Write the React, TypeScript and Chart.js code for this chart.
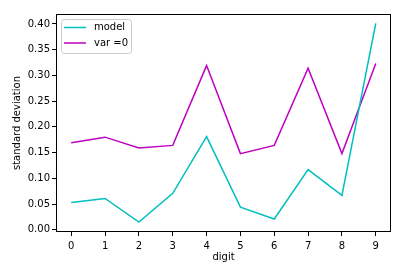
import React, { useEffect, useRef } from "react";
import { Chart, registerables } from "chart.js";

Chart.register(...registerables);

const digits = [0, 1, 2, 3, 4, 5, 6, 7, 8, 9];
const modelValues = [0.053, 0.061, 0.015, 0.071, 0.181, 0.044, 0.021, 0.117, 0.067, 0.401];
const varZeroValues = [0.169, 0.180, 0.159, 0.164, 0.319, 0.148, 0.164, 0.314, 0.148, 0.323];
const seriesLabels = ["model", "var =0"];
const seriesColors = ["#00bfbf", "#bf00bf"];

const FONT = "'DejaVu Sans', sans-serif";

export default function App() {
  const ref = useRef<HTMLCanvasElement | null>(null);
  useEffect(() => {
    if (!ref.current) return;
    const framePlugin = {
      id: "frame",
      afterDraw(chart: any) {
        const { ctx, chartArea: a } = chart;
        ctx.save();
        ctx.strokeStyle = "#000";
        ctx.lineWidth = 1;
        ctx.strokeRect(Math.round(a.left) + 0.5, Math.round(a.top) + 0.5, Math.round(a.right - a.left) - 1, Math.round(a.bottom - a.top) - 1);
        // legend
        const x = Math.round(a.left) + 5, y = Math.round(a.top) + 5, w = 70, h = 34;
        ctx.fillStyle = "rgba(255,255,255,0.8)";
        ctx.strokeStyle = "#cccccc";
        ctx.beginPath();
        (ctx as any).roundRect(x + 0.5, y + 0.5, w, h, 3);
        ctx.fill();
        ctx.stroke();
        ctx.font = "10px " + FONT;
        ctx.textBaseline = "middle";
        ctx.textAlign = "left";
        seriesLabels.forEach((lab, i) => {
          const ly = y + 8.5 + i * 15.5;
          ctx.strokeStyle = seriesColors[i];
          ctx.lineWidth = 1.5;
          ctx.beginPath();
          ctx.moveTo(x + 3, ly);
          ctx.lineTo(x + 25, ly);
          ctx.stroke();
          ctx.fillStyle = "#000";
          ctx.fillText(lab, x + 33, ly);
        });
        ctx.restore();
      },
    };
    const chart = new Chart(ref.current, {
      type: "line",
      data: {
        datasets: [
          {
            label: seriesLabels[0],
            data: digits.map((d, i) => ({ x: d, y: modelValues[i] })),
            borderColor: seriesColors[0],
            borderWidth: 1.5,
            pointRadius: 0,
            tension: 0,
          },
          {
            label: seriesLabels[1],
            data: digits.map((d, i) => ({ x: d, y: varZeroValues[i] })),
            borderColor: seriesColors[1],
            borderWidth: 1.5,
            pointRadius: 0,
            tension: 0,
          },
        ],
      },
      options: {
        animation: false,
        responsive: false,
        layout: { padding: { top: 14, right: 22, left: 0, bottom: 0 } },
        plugins: { legend: { display: false }, tooltip: { enabled: false } },
        scales: {
          x: {
            type: "linear",
            min: -0.45,
            max: 9.45,
            ticks: {
              stepSize: 1,
              includeBounds: false,
              color: "#000",
              font: { family: FONT, size: 10 },
              padding: 4,
              maxRotation: 0,
            },
            grid: { drawOnChartArea: false, drawTicks: true, tickLength: 4, tickColor: "#000" },
            border: { display: false },
            title: { display: true, text: "digit", color: "#000", font: { family: FONT, size: 10 }, padding: { top: 0, bottom: 4 } },
            afterFit(s: any) { s.height = 35; },
          },
          y: {
            type: "linear",
            min: -0.00425,
            max: 0.41925,
            ticks: {
              stepSize: 0.05,
              includeBounds: false,
              color: "#000",
              font: { family: FONT, size: 10 },
              padding: 2,
              callback: (v: any) => Number(v).toFixed(2),
            },
            grid: { drawOnChartArea: false, drawTicks: true, tickLength: 4, tickColor: "#000" },
            border: { display: false },
            title: { display: true, text: "standard deviation", color: "#000", font: { family: FONT, size: 10 }, padding: { top: 11, bottom: 0 } },
            afterFit(s: any) { s.width = 56; },
          },
        },
      },
      plugins: [framePlugin],
    } as any);
    return () => chart.destroy();
  }, []);
  return (
    <div style={{ position: "fixed", left: 0, top: 0, width: 413, height: 267, background: "#fff" }}>
      <canvas ref={ref} width={413} height={267} style={{ width: 413, height: 267 }} />
    </div>
  );
}
